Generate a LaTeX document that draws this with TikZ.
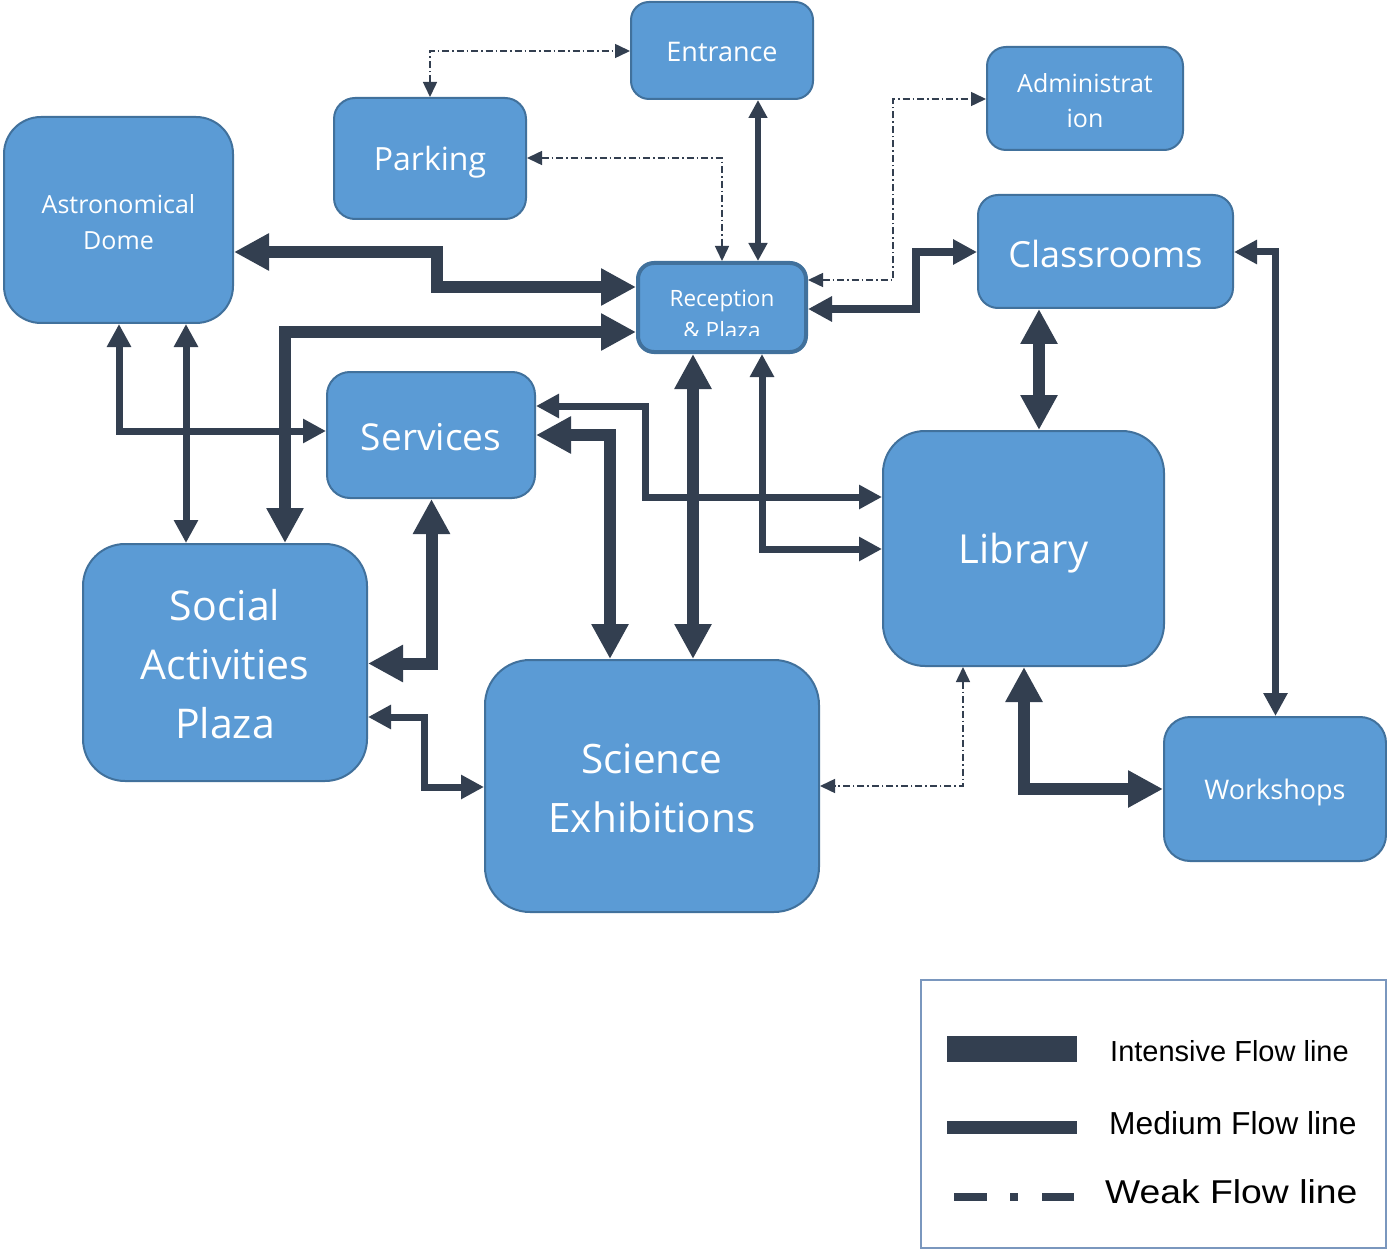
\documentclass[tikz,border=0pt]{standalone}
\usepackage{fontspec}
\setmainfont{Open Sans}
\newfontfamily\legendfont{Liberation Sans}
\usetikzlibrary{arrows.meta}
\definecolor{boxfill}{HTML}{5B9BD5}
\definecolor{boxline}{HTML}{41719C}
\definecolor{flow}{HTML}{333F50}
\definecolor{legline}{HTML}{7A97BE}
\newcommand{\fs}[2]{\fontsize{#1}{#2}\selectfont}
\begin{document}
\begin{tikzpicture}[x=1pt,y=-1pt,
  box/.style={draw=boxline, fill=boxfill, line width=2pt, inner sep=0pt},
  boxtext/.style={text=white, align=center, inner sep=0pt},
  intense/.style={draw=flow, line width=12pt, {Triangle[width=35pt,length=35pt]}-{Triangle[width=35pt,length=35pt]}},
  medium/.style={draw=flow, line width=7pt, {Triangle[width=23pt,length=23pt]}-{Triangle[width=23pt,length=23pt]}},
  thinflow/.style={draw=flow, line width=5.5pt, {Triangle[width=18pt,length=18pt]}-{Triangle[width=18pt,length=18pt]}},
  weak/.style={draw=flow, line width=1.5pt, dash pattern=on 7pt off 3pt on 1.5pt off 3pt, {Triangle[width=14pt,length=15pt]}-{Triangle[width=14pt,length=15pt]}},
  legtext/.style={anchor=west, inner sep=0pt, text=black, font=\legendfont},
]
\fill[white] (0,0) rectangle (1387,1249);
\useasboundingbox (0,0) rectangle (1387,1249);

% boxes
\node[box, minimum width=182pt, minimum height=97pt, rounded corners=18pt,
  label={[boxtext, font=\fs{27}{32}, yshift=-1pt]center:Entrance}] (entrance) at (722,50.5) {};
\node[box, minimum width=192pt, minimum height=121pt, rounded corners=21pt,
  label={[boxtext, font=\fs{32}{38}, yshift=-4pt]center:Parking}] (parking) at (430,158.5) {};
\node[box, minimum width=196pt, minimum height=103pt, rounded corners=19pt,
  label={[boxtext, font=\fs{25}{35}, yshift=-2pt]center:{Administrat\\ion}}] (admin) at (1085,98.5) {};
\node[box, minimum width=229pt, minimum height=206pt, rounded corners=37pt,
  label={[boxtext, font=\fs{25}{36}, yshift=-2pt]center:{Astronomical\\Dome}}] (dome) at (118.5,220) {};
\node[box, line width=4pt, minimum width=168pt, minimum height=89pt, rounded corners=16pt] (reception) at (722,307.5) {};
\begin{scope}
  \clip (642,266) rectangle (802,336);
  \node[boxtext, font=\fs{22.5}{32}] (receptiontext) at (722,314) {Reception\\\& Plaza};
\end{scope}
\node[box, minimum width=255pt, minimum height=113pt, rounded corners=20pt,
  label={[boxtext, font=\fs{36}{42}, yshift=-3pt]center:Classrooms}] (classrooms) at (1105.5,251.5) {};
\node[box, minimum width=208pt, minimum height=126pt, rounded corners=23pt,
  label={[boxtext, font=\fs{37}{42}, yshift=-2pt]center:Services}] (services) at (431,435) {};
\node[box, minimum width=284pt, minimum height=237pt, rounded corners=42pt,
  label={[boxtext, font=\fs{41}{59}, yshift=-2pt]center:{Social\\Activities\\Plaza}}] (social) at (225,662.5) {};
\node[box, minimum width=334pt, minimum height=252pt, rounded corners=45pt,
  label={[boxtext, font=\fs{40.5}{59}, yshift=-2pt]center:{Science\\Exhibitions}}] (science) at (652,786) {};
\node[box, minimum width=281pt, minimum height=235pt, rounded corners=42pt,
  label={[boxtext, font=\fs{40}{46}, yshift=-5pt]center:Library}] (library) at (1023.5,548.5) {};
\node[box, minimum width=222pt, minimum height=144pt, rounded corners=26pt,
  label={[boxtext, font=\fs{27}{32}, yshift=-3pt]center:Workshops}] (workshops) at (1275,789) {};

% flows
\draw[intense] (dome.east |- 0,252) -- (437,252) -- (437,287) -- (reception.west |- 0,287);
\draw[intense] (social.north -| 285,0) -- (285,332) -- (reception.west |- 0,332);
\draw[thinflow] (entrance.south -| 758,0) -- (reception.north -| 758,0);
\draw[weak] (parking.east |- 0,158) -- (722,158) -- (reception.north -| 722,0);
\draw[weak] (parking.north) -- (430,51) -- (entrance.west |- 0,51);
\draw[weak] (reception.east |- 0,280) -- (893,280) -- (893,99) -- (admin.west |- 0,99);
\draw[draw=flow, line width=8pt, {Triangle[width=24pt,length=24pt]}-{Triangle[width=24pt,length=24pt]}] (reception.east |- 0,309) -- (916,309) -- (916,252) -- (classrooms.west |- 0,252);
\draw[intense] (classrooms.south -| 1039,0) -- (library.north -| 1039,0);
\draw[medium] (classrooms.east |- 0,252) -- (1275.5,252) -- (workshops.north -| 1275.5,0);
\draw[intense] (library.south -| 1024,0) -- (1024,789) -- (workshops.west |- 0,789);
\draw[weak] (library.south -| 963,0) -- (963,786) -- (science.east |- 0,786);
\draw[medium] (dome.south -| 119,0) -- (119,431) -- (services.west |- 0,431);
\draw[medium] (dome.south -| 186,0) -- (social.north -| 186,0);
\draw[intense] (services.south -| 431.5,0) -- (431.5,663.5) -- (social.east |- 0,663.5);
\draw[medium] (social.east |- 0,717) -- (424,717) -- (424,787) -- (science.west |- 0,787);
\draw[intense] (services.east |- 0,435) -- (610,435) -- (science.north -| 610,0);
\draw[intense] (reception.south -| 693,0) -- (science.north -| 693,0);
\draw[medium] (services.east |- 0,406) -- (645,406) -- (645,497) -- (library.west |- 0,497);
\draw[medium] (reception.south -| 762,0) -- (762,549) -- (library.west |- 0,549);

% legend
\node[draw=legline, line width=1.3pt, minimum width=465pt, minimum height=268pt, inner sep=0pt] (legend) at (1153.5,1114) {};
\node[fill=flow, minimum width=130pt, minimum height=26pt, inner sep=0pt] (legI) at (1012,1049) {};
\node[fill=flow, minimum width=130pt, minimum height=13pt, inner sep=0pt] (legM) at (1012,1127.5) {};
\node[fill=flow, minimum width=33pt, minimum height=8pt, inner sep=0pt] (legW1) at (970.5,1197) {};
\node[fill=flow, minimum width=8pt, minimum height=8pt, inner sep=0pt] (legW2) at (1014,1197) {};
\node[fill=flow, minimum width=32pt, minimum height=8pt, inner sep=0pt] (legW3) at (1058,1197) {};
\node[legtext, font=\legendfont\fs{29}{34}] (legIt) at (1110,1051) {Intensive Flow line};
\node[legtext, font=\legendfont\fs{31.8}{36}] (legMt) at (1109,1123.5) {Medium Flow line};
\node[legtext, font=\legendfont\fs{33}{38}] (legWt) at (1105,1192) {\scalebox{1.13}[1]{Weak Flow line}};
\end{tikzpicture}
\end{document}
